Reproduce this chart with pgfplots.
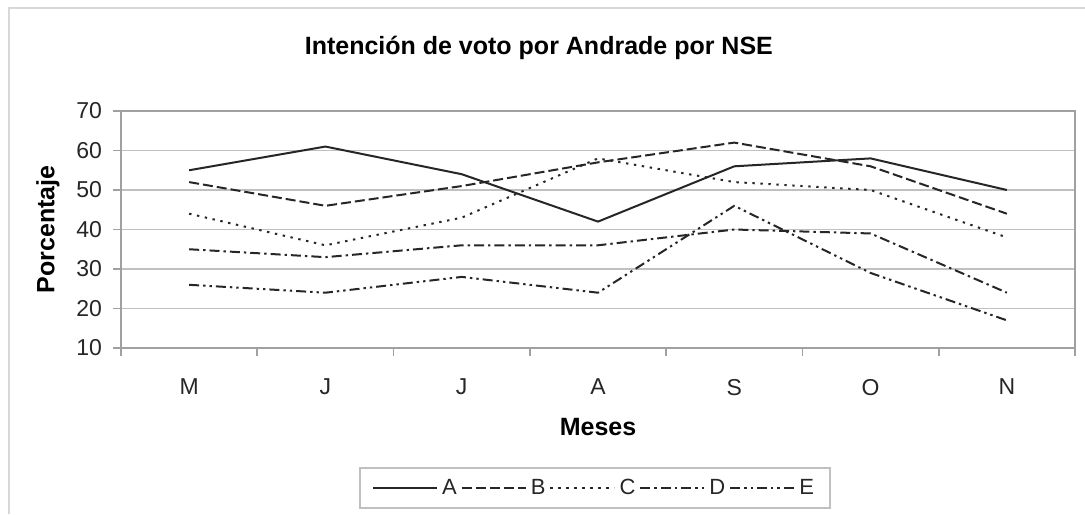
\documentclass[border=0pt]{standalone}
\usepackage{fontspec}
\setmainfont{Liberation Sans}
\usepackage{pgfplots}
\pgfplotsset{compat=1.18}
\definecolor{gridgray}{HTML}{C0C0C0}
\definecolor{axgray}{HTML}{A0A0A0}
\definecolor{bordergray}{HTML}{D8D8D8}
\definecolor{ln}{HTML}{262626}
\begin{document}
\begin{tikzpicture}
\begin{axis}[
  scale only axis,
  width=477pt, height=118.5pt,
  xmin=-0.5, xmax=6.5, ymin=10, ymax=70,
  xtick={0,...,6}, xticklabels={M,J,J,A,S,O,N},
  minor xtick={-0.5,0.5,...,6.5},
  ytick={10,20,...,70},
  major x tick style={draw=none},
  minor tick length=4pt, major tick length=4pt,
  tick align=outside, tick pos=left,
  every tick/.style={axgray, line width=0.8pt},
  ymajorgrids, grid style={gridgray, line width=0.8pt},
  axis line style={axgray, line width=1pt},
  /pgf/number format/assume math mode=true,
  ticklabel style={font=\fontsize{11.5}{13}\selectfont, text=black!85},
  xticklabel style={yshift=-8pt},
  yticklabel style={xshift=-2pt},
  title={Intención de voto por Andrade por NSE},
  title style={font=\fontsize{12.5}{15}\selectfont\bfseries, at={(rel axis cs:0.438,1.2785)}, anchor=center, yshift=-7.5pt},
  xlabel={Meses},
  xlabel style={font=\fontsize{12.5}{15}\selectfont\bfseries, at={(rel axis cs:0.5,-0.3333)}, anchor=center},
  ylabel={Porcentaje},
  ylabel style={font=\fontsize{12.5}{15}\selectfont\bfseries, at={(rel axis cs:-0.0766,0.5)}, anchor=center},
  legend columns=5,
  legend style={at={(rel axis cs:0.4969,-0.5907)}, anchor=center, draw=gridgray, line width=0.8pt,
    font=\fontsize{11}{13}\selectfont, text=black!85, inner xsep=6pt, inner ysep=3.5pt,
    /tikz/every even column/.append style={column sep=0pt},
    /tikz/every odd column/.append style={column sep=0pt}},
  legend image code/.code={\draw[#1] (0pt,0pt) -- (32pt,0pt);},
]
\addplot[ln, line width=1pt, line join=round, mark=none, solid] coordinates {(0,55) (1,61) (2,54) (3,42) (4,56) (5,58) (6,50)};
\addlegendentry{A\hspace{3.5pt}}
\addplot[ln, line width=1pt, line join=round, mark=none, dash pattern=on 5pt off 2pt] coordinates {(0,52) (1,46) (2,51) (3,57) (4,62) (5,56) (6,44)};
\addlegendentry{B\hspace{3.5pt}}
\addplot[ln, line width=1pt, line join=round, mark=none, dash pattern=on 1.2pt off 2.8pt] coordinates {(0,44) (1,36) (2,43) (3,58) (4,52) (5,50) (6,38)};
\addlegendentry{C\hspace{3.5pt}}
\addplot[ln, line width=1pt, line join=round, mark=none, dash pattern=on 5pt off 2pt on 1.2pt off 2pt] coordinates {(0,35) (1,33) (2,36) (3,36) (4,40) (5,39) (6,24)};
\addlegendentry{D\hspace{3.5pt}}
\addplot[ln, line width=1pt, line join=round, mark=none, dash pattern=on 5pt off 2pt on 1.2pt off 2pt on 1.2pt off 2pt] coordinates {(0,26) (1,24) (2,28) (3,24) (4,46) (5,29) (6,17)};
\addlegendentry{E}
\end{axis}
\draw[bordergray, line width=1.2pt] (-56pt,-83pt) -- (-56pt,170pt) -- (482pt,170pt);
\pgfresetboundingbox
\path (-60.5pt,-83pt) rectangle (482pt,174pt);
\end{tikzpicture}
\end{document}
